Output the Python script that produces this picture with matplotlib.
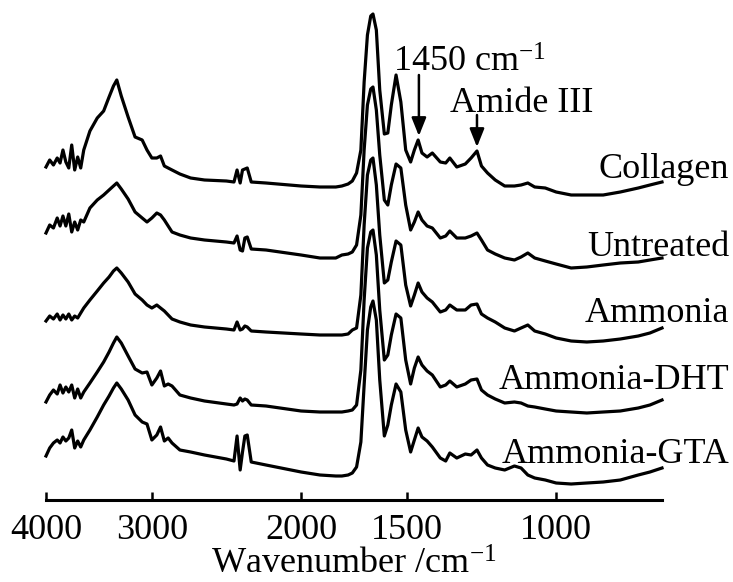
import matplotlib
matplotlib.use("Agg")
import matplotlib.pyplot as plt
from matplotlib.ticker import NullLocator
import numpy as np

plt.rcParams['font.family'] = ['Liberation Serif', 'DejaVu Serif']
plt.rcParams['mathtext.fontset'] = 'custom'
plt.rcParams['mathtext.rm'] = 'Liberation Serif'
plt.rcParams['mathtext.it'] = 'Liberation Serif:italic'

# wavenumber grid (cm^-1)
wavenumber = [4000, 3960, 3920, 3880, 3850, 3820, 3790, 3760, 3730, 3700, 3670, 3640, 3610,
              3550, 3480, 3420, 3370, 3330, 3300, 3260, 3200, 3140, 3080, 3040, 3000, 2960,
              2930, 2900, 2870, 2840, 2780, 2700, 2600,
              2450, 2400, 2380, 2360, 2345, 2330, 2315, 2290, 2200,
              2000, 1900, 1820, 1790, 1760, 1740, 1720, 1700,
              1685, 1670, 1655, 1645, 1630, 1615, 1595, 1580, 1565, 1545,
              1525, 1505, 1485, 1470, 1455, 1440, 1420, 1400,
              1370, 1350, 1335, 1310, 1280, 1260, 1240, 1225, 1205, 1180,
              1150, 1120, 1100, 1080, 1060, 1030, 1000,
              960, 920, 880, 840, 800, 775, 750]

collagen = [23, 30, 25, 32, 27, 40, 28, 22, 45, 20, 33, 22, 40,
            59, 72, 79, 93, 104, 110, 94, 73, 53, 50, 40, 32, 32, 34, 24, 22, 20, 16, 12, 10,
            9, 8, 20, 7, 20, 21, 22, 8, 7,
            4, 3, 3, 4, 6, 9, 17, 40,
            108, 155, 174, 176, 160, 100, 56, 57, 85, 115,
            88, 40, 28, 40, 50, 37, 33, 37,
            28, 27, 32, 23, 26, 32, 39, 24, 17, 10,
            4, 4, 5, 7, 3, 2, -2,
            -5, -5, -5, -2, 2, 5, 8]

untreated = [27, 35, 32, 42, 34, 44, 34, 46, 28, 38, 30, 40, 38,
             52, 60, 65, 70, 74, 77, 71, 61, 48, 42, 38, 42, 47, 45, 40, 34, 28, 25, 22, 20,
             18, 17, 24, 10, 9, 22, 23, 11, 10,
             5, 2, 2, 5, 6, 8, 15, 45,
             110, 155, 171, 173, 150, 105, 60, 55, 75, 96,
             92, 55, 30, 38, 48, 40, 34, 32,
             22, 24, 29, 22, 22, 24, 27, 20, 10, 6,
             2, 0, 3, 7, 2, -1, -4,
             -8, -7, -5, -3, -2, 0, 2]

ammonia = [9, 14, 11, 16, 10, 15, 11, 16, 10, 14, 12, 17, 22,
           30, 39, 47, 53, 59, 62, 57, 48, 36, 30, 25, 22, 25, 22, 19, 15, 11, 8, 5, 3,
           1, 0, 8, 0, 1, 4, 3, -1, -2,
           -4, -5, -5, -5, -4, 0, 2, 35,
           105, 155, 170, 172, 145, 95, 47, 50, 68, 89,
           85, 45, 24, 35, 47, 38, 32, 28,
           18, 20, 25, 20, 20, 25, 26, 16, 12, 8,
           2, -1, 2, 5, -1, -4, -8,
           -11, -12, -11, -9, -6, -3, 2]

ammonia_dht = [-2, 5, 10, 6, 15, 7, 13, 8, 15, 2, 11, 2, 8,
               17, 28, 38, 48, 57, 63, 57, 44, 31, 27, 28, 15, 22, 29, 14, 16, 14, 5, 2, -1,
               -4, -5, -4, 2, -1, 1, 0, -5, -6,
               -11, -12, -12, -12, -11, -10, -5, 30,
               100, 152, 168, 170, 145, 90, 40, 45, 65, 86,
               82, 40, 16, 32, 43, 35, 29, 25,
               13, 15, 19, 13, 16, 20, 21, 10, 5, 1,
               -3, -2, -3, -6, -7, -9, -11,
               -12, -13, -12, -11, -8, -5, 0]

ammonia_gta = [14, 22, 27, 30, 27, 33, 29, 32, 40, 22, 29, 23, 30,
               40, 53, 65, 74, 82, 87, 81, 70, 55, 48, 46, 30, 35, 43, 29, 32, 27, 20, 18, 15,
               11, 9, 34, 0, 18, 34, 35, 8, 5,
               -2, -5, -6, -6, -5, -3, 3, 28,
               85, 140, 163, 169, 150, 90, 34, 45, 65, 86,
               78, 40, 18, 30, 42, 33, 29, 23,
               12, 9, 17, 12, 16, 15, 20, 12, 5, 2,
               0, 4, 2, -5, -8, -10, -13,
               -14, -13, -12, -10, -5, -2, 2]

series = [collagen, untreated, ammonia, ammonia_dht, ammonia_gta]
names = ["Collagen", "Untreated", "Ammonia", "Ammonia-DHT", "Ammonia-GTA"]
offsets = [330, 260, 190, 120, 50]
label_baselines_px = [178, 256, 322, 389, 463]

tick_values = [4000, 3000, 2000, 1500, 1000]
tick_labels = ["4000", "3000", "2000", "1500", "1000"]

W, H = 733, 582
fig = plt.figure(figsize=(W / 100, H / 100), dpi=100)
ax = fig.add_axes([46 / W, 82 / H, 616 / W, 500 / H])

for vals, off in zip(series, offsets):
    ax.plot(wavenumber, np.array(vals) + off, color='black', lw=2.3,
            solid_joinstyle='round', clip_on=False)

ax.set_xscale('log')
ax.set_xlim(4000, 750)
ax.set_ylim(20, 520)
ax.set_xticks(tick_values)
ax.xaxis.set_minor_locator(NullLocator())
ax.set_xticklabels(tick_labels)
ax.tick_params(axis='x', direction='in', length=6, width=1.8, labelsize=26, pad=10)
ax.set_yticks([])
for s in ['left', 'right', 'top']:
    ax.spines[s].set_visible(False)
ax.spines['bottom'].set_linewidth(2.2)
ax.set_xlabel('Wavenumber /cm$^{-1}$', fontsize=26, labelpad=1)

for name, yb in zip(names, label_baselines_px):
    fig.text(729 / W, 1 - yb / H, name, ha='right', va='baseline', fontsize=26)

# annotations
arrow_style = dict(arrowstyle='-|>,head_length=0.55,head_width=0.22', color='black',
                   lw=1.8, mutation_scale=20, shrinkA=0, shrinkB=0)
wn = np.array(wavenumber)
i1450 = int(np.argmin(np.abs(wn - 1455)))
i1240 = int(np.argmin(np.abs(wn - 1240)))
tip1 = collagen[i1450] + offsets[0] + 4
tip2 = collagen[i1240] + offsets[0] + 4
ax.annotate('', xy=(1452, tip1), xytext=(1452, 445), arrowprops=arrow_style,
            annotation_clip=False)
ax.annotate('', xy=(1240, tip2), xytext=(1240, 405), arrowprops=arrow_style,
            annotation_clip=False)
ax.text(1557, 448, '1450 cm$^{-1}$', fontsize=26, ha='left', va='baseline')
ax.text(1334, 408, 'Amide III', fontsize=26, ha='left', va='baseline')

fig.savefig('out.png', dpi=100)
